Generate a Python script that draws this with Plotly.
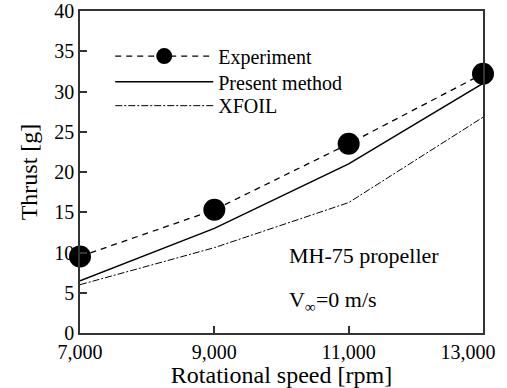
import plotly.graph_objects as go

rpm = [7000, 9000, 11000, 13000]
experiment = [9.5, 15.3, 23.5, 32.2]
present = [6.5, 13.0, 21.0, 31.0]
xfoil = [6.0, 10.6, 16.2, 26.8]
x_ticks = [7000, 9000, 11000, 13000]
# last label padded so it stays inside the page, as in the original figure
x_tick_labels = ["7,000", "9,000", "11,000", "13,000" + "\u00a0" * 6]
y_ticks = [0, 5, 10, 15, 20, 25, 30, 35, 40]

FONT = "Liberation Serif"

fig = go.Figure()
fig.add_trace(go.Scatter(x=rpm, y=experiment, name="Experiment", mode="lines+markers",
                         line=dict(color="black", width=1.3, dash="6px,5px"),
                         marker=dict(size=22, color="black"), cliponaxis=False, legend="legend"))
fig.add_trace(go.Scatter(x=rpm, y=present, name="Present method", mode="lines",
                         line=dict(color="black", width=1.5), cliponaxis=False, legend="legend2"))
fig.add_trace(go.Scatter(x=rpm, y=xfoil, name="XFOIL", mode="lines",
                         line=dict(color="black", width=1.0, dash="7px,2px,2px,2px"), cliponaxis=False,
                         legend="legend3"))

fig.add_annotation(x=0.514, y=0.242, xref="paper", yref="paper", xanchor="left", yanchor="middle",
                   text="MH-75 propeller", showarrow=False, font=dict(family=FONT, size=22, color="black"))
fig.add_annotation(x=0.514, y=0.1, xref="paper", yref="paper", xanchor="left", yanchor="middle",
                   text="V<sub>∞</sub>=0 m/s", showarrow=False, font=dict(family=FONT, size=22, color="black"))

axis_common = dict(showline=True, linecolor="#333", linewidth=1.5, mirror=True,
                   ticks="inside", ticklen=7, tickcolor="#333", tickwidth=1.5,
                   showgrid=False, zeroline=False, automargin=False,
                   ticklabeloverflow="allow",
                   tickfont=dict(family=FONT, size=20, color="black"))

fig.update_xaxes(range=[7000, 13000], tickvals=x_ticks, ticktext=x_tick_labels,
                 title=dict(text="Rotational speed [rpm]", font=dict(family=FONT, size=24, color="black"), standoff=0),
                 **axis_common)
fig.update_yaxes(range=[0, 40], tickvals=y_ticks,
                 title=dict(text="Thrust [g]", font=dict(family=FONT, size=24, color="black"), standoff=10),
                 **axis_common)

legend_common = dict(x=0.075, xanchor="left", yanchor="middle", bgcolor="rgba(0,0,0,0)",
                     font=dict(family=FONT, size=20, color="black"), itemwidth=98)

fig.update_layout(width=507, height=388, margin=dict(l=80, r=24, t=11, b=55),
                  plot_bgcolor="white", paper_bgcolor="white",
                  showlegend=True,
                  legend=dict(y=0.86, **legend_common),
                  legend2=dict(y=0.780, **legend_common),
                  legend3=dict(y=0.706, **legend_common))

fig.write_html("out.html")
